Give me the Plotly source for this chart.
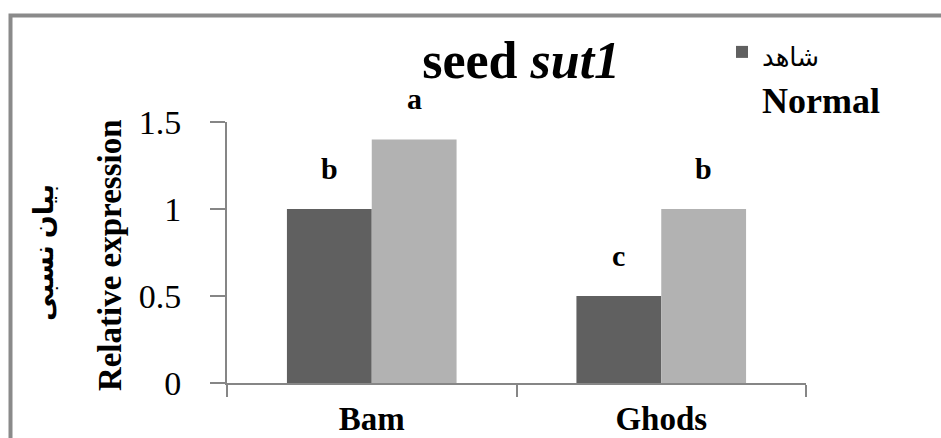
import plotly.graph_objects as go

categories = ["Bam", "Ghods"]
normal_vals = [1.0, 0.5]
stress_vals = [1.4, 1.0]
normal_letters = ["b", "c"]
stress_letters = ["a", "b"]
normal_name = '<span style="font-size:26px">شاهد</span><br><b>Normal</b>'
stress_name = "تنش<br>Stress"
y_ticks = [0, 0.5, 1, 1.5]

DARK = "#606060"
LIGHT = "#b2b2b2"
AXIS = "#868686"
SERIF = "Liberation Serif, Times New Roman, DejaVu Serif, DejaVu Sans, serif"

W, H = 941, 438
ML, MR, MT, MB = 227, 135, 122, 55
BARGAP = 0.414

fig = go.Figure()
fig.add_trace(go.Bar(x=categories, y=normal_vals, name=normal_name,
                     marker=dict(color=DARK, line=dict(width=0))))
fig.add_trace(go.Bar(x=categories, y=stress_vals, name=stress_name,
                     marker=dict(color=LIGHT, line=dict(width=0)), showlegend=False))

plot_w = W - ML - MR
plot_h = H - MT - MB
bar_w = plot_w / len(categories) * (1 - BARGAP) / 2
annotations = []
for vals, letters, sgn in ((normal_vals, normal_letters, -1), (stress_vals, stress_letters, 1)):
    for c, v, t in zip(categories, vals, letters):
        annotations.append(dict(x=c, y=v, xref="x", yref="y", text="<b>%s</b>" % t,
                                showarrow=False, xanchor="center", yanchor="bottom",
                                xshift=sgn * bar_w / 2, yshift=22,
                                font=dict(family=SERIF, size=30, color="black")))

annotations.append(dict(x=(110 - ML) / plot_w, y=0.49, xref="paper", yref="paper",
                        text="<b>Relative expression</b>", textangle=-90, showarrow=False,
                        xanchor="center", yanchor="middle",
                        font=dict(family=SERIF, size=33, color="black")))
annotations.append(dict(x=(44 - ML) / plot_w, y=0.498, xref="paper", yref="paper",
                        text="<b>بیان نسبی</b>", textangle=-90, showarrow=False,
                        xanchor="center", yanchor="middle",
                        font=dict(family=SERIF, size=27, color="black")))

fig.update_layout(
    width=W, height=H, autosize=False,
    margin=dict(l=ML, r=MR, t=MT, b=MB, pad=0, autoexpand=False),
    paper_bgcolor="white", plot_bgcolor="white",
    barmode="group", bargap=BARGAP, bargroupgap=0,
    title=dict(text="<b>seed <i>sut1</i></b>", x=0.508, xref="paper", xanchor="center",
               y=1 - 60 / H, yanchor="middle",
               font=dict(family=SERIF, size=52, color="black")),
    showlegend=True,
    legend=dict(x=(722 - ML) / plot_w, xanchor="left", y=(H - MB - 22) / plot_h,
                yanchor="top", valign="top", bgcolor="rgba(0,0,0,0)",
                font=dict(family=SERIF, size=36, color="black")),
    xaxis=dict(showline=True, linecolor=AXIS, linewidth=2, ticks="outside",
               tickson="boundaries", ticklen=12, tickcolor=AXIS, tickwidth=2,
               showgrid=False, zeroline=False, ticklabelstandoff=5, automargin=False,
               tickfont=dict(family=SERIF, size=33, color="black"),
               tickprefix="<b>", ticksuffix="</b>"),
    yaxis=dict(range=[0, 1.5], tickvals=y_ticks, showline=True, linecolor=AXIS, linewidth=2,
               ticks="outside", ticklen=15, tickcolor=AXIS, tickwidth=2, showgrid=False,
               zeroline=False, ticklabelstandoff=22, automargin=False,
               tickfont=dict(family=SERIF, size=34, color="black")),
    annotations=annotations,
    shapes=[dict(type="rect", xref="paper", yref="paper",
                 x0=(10.5 - ML) / plot_w, x1=1.5,
                 y0=-0.5, y1=(H - MB - 15.5) / plot_h,
                 line=dict(color="#8a8a8a", width=4), fillcolor="rgba(0,0,0,0)", layer="above")],
)

fig.write_html("out.html", config={"displayModeBar": False},
               post_script="document.body.style.margin='0';document.body.style.overflow='hidden';")
